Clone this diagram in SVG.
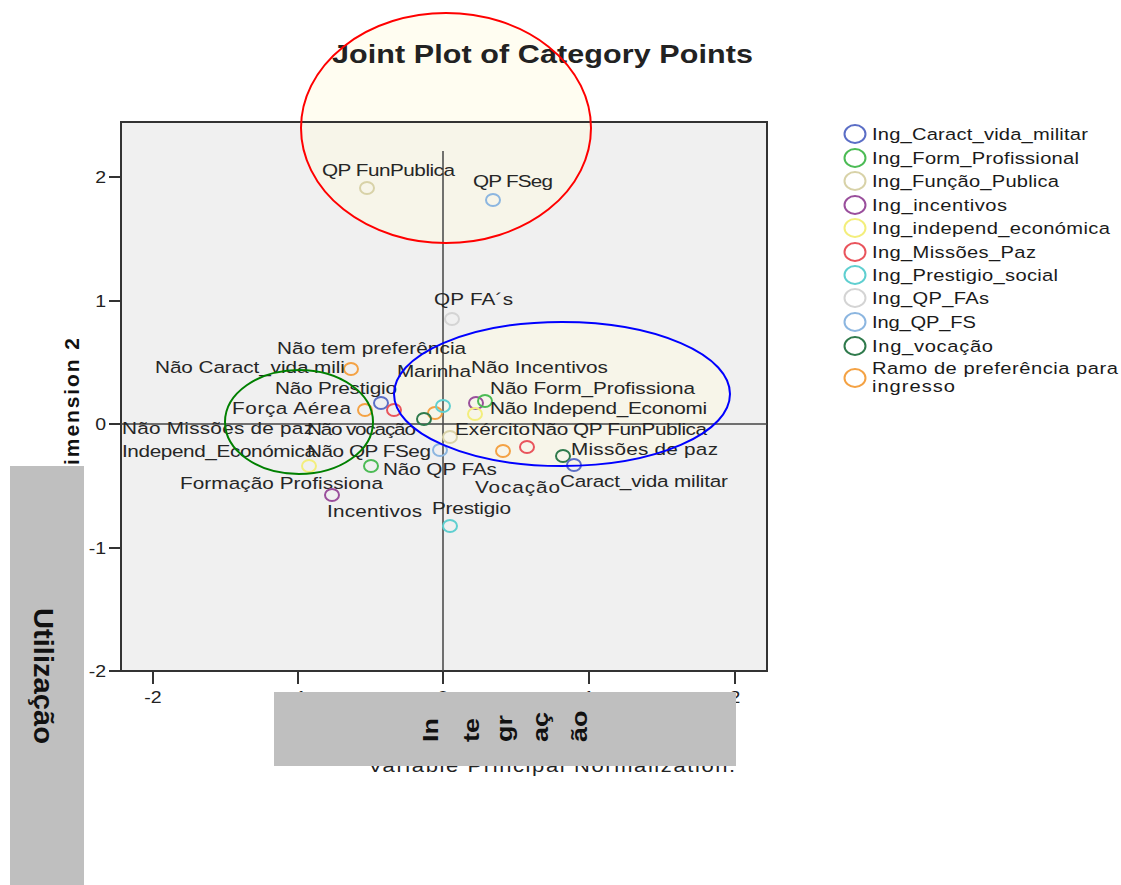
<svg xmlns="http://www.w3.org/2000/svg" width="1121" height="885" viewBox="0 0 1121 885">
<style>
text{font-family:"Liberation Sans",Arial,sans-serif;}
.lbl{font-size:17px;fill:#262626;}
.tick{font-size:16px;fill:#222;}
.leg{font-size:16.5px;fill:#1a1a1a;}
.pt{fill:none;stroke-width:2;}
.lg{fill:none;stroke-width:2;}
.ax{stroke:#333;stroke-width:2;fill:none;}
.efill{fill:#fffbe0;fill-opacity:0.45;stroke:none;}
.col{font-size:22.5px;font-weight:bold;fill:#111;}
.c1{stroke:#5b6ec6}.c2{stroke:#4cbb55}.c3{stroke:#d8d2a8}.c4{stroke:#9a4f9c}.c5{stroke:#f3ee7c}.c6{stroke:#e9545c}.c7{stroke:#5fcfd0}.c8{stroke:#d4d4d4}.c9{stroke:#8cb6e0}.c10{stroke:#2f7a4c}.c11{stroke:#f4a244}
</style>
<rect width="1121" height="885" fill="#ffffff"/>
<rect x="121" y="122" width="646" height="549" fill="#f0f0f0"/>
<g id="highlight-fills">
<ellipse class="efill" cx="446" cy="128" rx="145" ry="115"/>
<ellipse class="efill" cx="562" cy="394" rx="168" ry="72"/>
</g>
<text transform="translate(332,63) scale(1.22,1)" textLength="345" lengthAdjust="spacing" font-size="25" font-weight="bold" fill="#222">Joint Plot of Category Points</text>
<g id="plot">
<rect x="121" y="122" width="646" height="549" fill="none" stroke="#333" stroke-width="2"/>
<line x1="443" y1="151" x2="443" y2="671" stroke="#444" stroke-width="1.5"/>
<line x1="121" y1="424" x2="767" y2="424" stroke="#444" stroke-width="1.5"/>
</g>
<g id="axes">
<g class="ax">
<line x1="109" y1="177" x2="121" y2="177"/><line x1="109" y1="301" x2="121" y2="301"/><line x1="109" y1="424" x2="121" y2="424"/><line x1="109" y1="548" x2="121" y2="548"/><line x1="109" y1="671" x2="121" y2="671"/>
<line x1="153" y1="671" x2="153" y2="684"/><line x1="298" y1="671" x2="298" y2="684"/><line x1="443" y1="671" x2="443" y2="684"/><line x1="589" y1="671" x2="589" y2="684"/><line x1="735" y1="671" x2="735" y2="684"/>
</g>
<g class="tick" text-anchor="end">
<text transform="translate(106,183) scale(1.22,1)">2</text><text transform="translate(106,307) scale(1.22,1)">1</text><text transform="translate(106,430) scale(1.22,1)">0</text><text transform="translate(106,554) scale(1.22,1)">-1</text><text transform="translate(106,677) scale(1.22,1)">-2</text>
</g>
<g class="tick" text-anchor="middle">
<text transform="translate(153,703) scale(1.22,1)">-2</text><text transform="translate(298,703) scale(1.22,1)">-1</text><text transform="translate(443,703) scale(1.22,1)">0</text><text transform="translate(589,703) scale(1.22,1)">1</text><text transform="translate(735,703) scale(1.22,1)">2</text>
</g>
<text transform="translate(368,772) scale(1.22,1)" textLength="301" lengthAdjust="spacing" font-size="18" fill="#222">Variable Principal Normalization.</text>
<text transform="translate(79,482) rotate(-90)" textLength="144" lengthAdjust="spacing" font-size="21" font-weight="bold" fill="#111">Dimension 2</text>
</g>
<g id="points">
<g id="p-qpfunpublica"><ellipse class="pt c3" cx="367" cy="188" rx="7" ry="6"/><text class="lbl" transform="translate(322,176) scale(1.22,1)" textLength="109" lengthAdjust="spacing">QP FunPublica</text></g>
<g id="p-qpfseg"><ellipse class="pt c9" cx="493" cy="200" rx="7" ry="6"/><text class="lbl" transform="translate(473,187) scale(1.22,1)" textLength="65.6" lengthAdjust="spacing">QP FSeg</text></g>
<g id="p-qpfas"><ellipse class="pt c8" cx="452" cy="319" rx="7" ry="6"/><text class="lbl" transform="translate(434,305) scale(1.22,1)" textLength="64.8" lengthAdjust="spacing">QP FA´s</text></g>
<g id="p-naotempref"><text class="lbl" transform="translate(277,354) scale(1.22,1)" textLength="155" lengthAdjust="spacing">Não tem preferência</text></g>
<g id="p-naocaract"><ellipse class="pt c11" cx="351" cy="369" rx="7" ry="6"/><text class="lbl" transform="translate(155,373) scale(1.22,1)" textLength="155.7" lengthAdjust="spacing">Não Caract_vida mili</text></g>
<g id="p-marinha"><ellipse class="pt c11" cx="435" cy="413" rx="7" ry="6"/><text class="lbl" transform="translate(397,377) scale(1.22,1)" textLength="60.7" lengthAdjust="spacing">Marinha</text></g>
<g id="p-naoincent"><ellipse class="pt c4" cx="476" cy="403" rx="7" ry="6"/><text class="lbl" transform="translate(471,373) scale(1.22,1)" textLength="112.3" lengthAdjust="spacing">Não Incentivos</text></g>
<g id="p-naoprest"><ellipse class="pt c7" cx="443" cy="406" rx="7" ry="6"/><text class="lbl" transform="translate(275,394) scale(1.22,1)" textLength="100" lengthAdjust="spacing">Não Prestigio</text></g>
<g id="p-naoform"><ellipse class="pt c2" cx="485" cy="401" rx="7" ry="6"/><text class="lbl" transform="translate(490,394) scale(1.22,1)" textLength="168" lengthAdjust="spacing">Não Form_Profissiona</text></g>
<g id="p-forca"><ellipse class="pt c11" cx="365" cy="410" rx="7" ry="6"/><text class="lbl" transform="translate(232,414) scale(1.22,1)" textLength="97.5" lengthAdjust="spacing">Força Aérea</text></g>
<g id="p-naocaract2"><ellipse class="pt c1" cx="381" cy="403" rx="7" ry="6"/></g>
<g id="p-naomissoes"><ellipse class="pt c6" cx="394" cy="410" rx="7" ry="6"/><text class="lbl" transform="translate(122,434) scale(1.22,1)" textLength="157.4" lengthAdjust="spacing">Não Missões de paz</text></g>
<g id="p-naoindep"><ellipse class="pt c5" cx="475" cy="414" rx="7" ry="6"/><text class="lbl" transform="translate(490,414) scale(1.22,1)" textLength="177.9" lengthAdjust="spacing">Não Independ_Economi</text></g>
<g id="p-naovoc"><ellipse class="pt c10" cx="424" cy="419" rx="7" ry="6"/><text class="lbl" transform="translate(307,435) scale(1.22,1)" textLength="89.3" lengthAdjust="spacing">Não vocação</text></g>
<g id="p-exercito"><ellipse class="pt c3" cx="450" cy="437" rx="7" ry="6"/><text class="lbl" transform="translate(455,435) scale(1.22,1)" textLength="61.5" lengthAdjust="spacing">Exército</text></g>
<g id="p-naoqpfun"><text class="lbl" transform="translate(531,435) scale(1.22,1)" textLength="144.3" lengthAdjust="spacing">Não QP FunPublica</text></g>
<g id="p-indep"><ellipse class="pt c5" cx="309" cy="466" rx="7" ry="6"/><text class="lbl" transform="translate(122,457) scale(1.22,1)" textLength="159" lengthAdjust="spacing">Independ_Económica</text></g>
<g id="p-naoqpfseg"><ellipse class="pt c9" cx="440" cy="450" rx="7" ry="6"/><text class="lbl" transform="translate(307,457) scale(1.22,1)" textLength="101.6" lengthAdjust="spacing">Não QP FSeg</text></g>
<g id="p-orange2"><ellipse class="pt c11" cx="503" cy="451" rx="7" ry="6"/></g>
<g id="p-missoes"><ellipse class="pt c6" cx="527" cy="447" rx="7" ry="6"/><text class="lbl" transform="translate(571,455) scale(1.22,1)" textLength="120.5" lengthAdjust="spacing">Missões de paz</text></g>
<g id="p-vocacao"><ellipse class="pt c10" cx="563" cy="456" rx="7" ry="6"/><text class="lbl" transform="translate(475,493) scale(1.22,1)" textLength="69.7" lengthAdjust="spacing">Vocação</text></g>
<g id="p-caract"><ellipse class="pt c1" cx="574" cy="465" rx="7" ry="6"/><text class="lbl" transform="translate(560,487) scale(1.22,1)" textLength="137.7" lengthAdjust="spacing">Caract_vida militar</text></g>
<g id="p-naoqpfas"><ellipse class="pt c2" cx="371" cy="466" rx="7" ry="6"/><text class="lbl" transform="translate(383,475) scale(1.22,1)" textLength="93.4" lengthAdjust="spacing">Não QP FAs</text></g>
<g id="p-formacao"><text class="lbl" transform="translate(180,489) scale(1.22,1)" textLength="166.4" lengthAdjust="spacing">Formação Profissiona</text></g>
<g id="p-incentivos"><ellipse class="pt c4" cx="332" cy="495" rx="7" ry="6"/><text class="lbl" transform="translate(327,517) scale(1.22,1)" textLength="77.9" lengthAdjust="spacing">Incentivos</text></g>
<g id="p-prestigio"><ellipse class="pt c7" cx="450" cy="526" rx="7" ry="6"/><text class="lbl" transform="translate(432,514) scale(1.22,1)" textLength="64.8" lengthAdjust="spacing">Prestigio</text></g>
</g>
<g id="legend">
<ellipse class="lg c1" cx="855" cy="134" rx="10.5" ry="9"/><text class="leg" transform="translate(872,140) scale(1.22,1)" textLength="177" lengthAdjust="spacing">Ing_Caract_vida_militar</text>
<ellipse class="lg c2" cx="855" cy="158" rx="10.5" ry="9"/><text class="leg" transform="translate(872,164) scale(1.22,1)" textLength="169.7" lengthAdjust="spacing">Ing_Form_Profissional</text>
<ellipse class="lg c3" cx="855" cy="181" rx="10.5" ry="9"/><text class="leg" transform="translate(872,187) scale(1.22,1)" textLength="153.3" lengthAdjust="spacing">Ing_Função_Publica</text>
<ellipse class="lg c4" cx="855" cy="205" rx="10.5" ry="9"/><text class="leg" transform="translate(872,211) scale(1.22,1)" textLength="110.7" lengthAdjust="spacing">Ing_incentivos</text>
<ellipse class="lg c5" cx="855" cy="228" rx="10.5" ry="9"/><text class="leg" transform="translate(872,234) scale(1.22,1)" textLength="195" lengthAdjust="spacing">Ing_independ_económica</text>
<ellipse class="lg c6" cx="855" cy="252" rx="10.5" ry="9"/><text class="leg" transform="translate(872,258) scale(1.22,1)" textLength="134.4" lengthAdjust="spacing">Ing_Missões_Paz</text>
<ellipse class="lg c7" cx="855" cy="275" rx="10.5" ry="9"/><text class="leg" transform="translate(872,281) scale(1.22,1)" textLength="152.5" lengthAdjust="spacing">Ing_Prestigio_social</text>
<ellipse class="lg c8" cx="855" cy="298" rx="10.5" ry="9"/><text class="leg" transform="translate(872,304) scale(1.22,1)" textLength="95.9" lengthAdjust="spacing">Ing_QP_FAs</text>
<ellipse class="lg c9" cx="855" cy="322" rx="10.5" ry="9"/><text class="leg" transform="translate(872,328) scale(1.22,1)" textLength="85.2" lengthAdjust="spacing">Ing_QP_FS</text>
<ellipse class="lg c10" cx="855" cy="346" rx="10.5" ry="9"/><text class="leg" transform="translate(872,352) scale(1.22,1)" textLength="99.2" lengthAdjust="spacing">Ing_vocação</text>
<ellipse class="lg c11" cx="855" cy="378" rx="10.5" ry="9"/><text class="leg" transform="translate(872,374) scale(1.22,1)" textLength="201.6" lengthAdjust="spacing">Ramo de preferência para</text><text class="leg" transform="translate(872,392) scale(1.22,1)" textLength="68" lengthAdjust="spacing">ingresso</text>
</g>
<g id="highlights">
<ellipse id="e-red" cx="446" cy="128" rx="145" ry="115" fill="none" stroke="#ff0000" stroke-width="2"/>
<ellipse id="e-blue" cx="562" cy="394" rx="168" ry="72" fill="none" stroke="#0000ff" stroke-width="2"/>
<ellipse id="e-green" cx="299" cy="422" rx="74" ry="52" fill="none" stroke="#008000" stroke-width="2"/>
</g>
<g id="box-integracao">
<rect x="274" y="692" width="462" height="74" fill="#bfbfbf"/>
<text class="col" transform="translate(438,742) rotate(-90) scale(1.2,1)">In</text>
<text class="col" transform="translate(479,742) rotate(-90) scale(1.2,1)">te</text>
<text class="col" transform="translate(512,742) rotate(-90) scale(1.2,1)">gr</text>
<text class="col" transform="translate(548,742) rotate(-90) scale(1.2,1)">aç</text>
<text class="col" transform="translate(587,742) rotate(-90) scale(1.2,1)">ão</text>
</g>
<g id="box-utilizacao">
<rect x="10" y="466" width="74" height="419" fill="#bfbfbf"/>
<text transform="translate(34,608) rotate(90) scale(1.06,1)" font-size="27.5" font-weight="bold" fill="#111">Utilização</text>
</g>
</svg>
